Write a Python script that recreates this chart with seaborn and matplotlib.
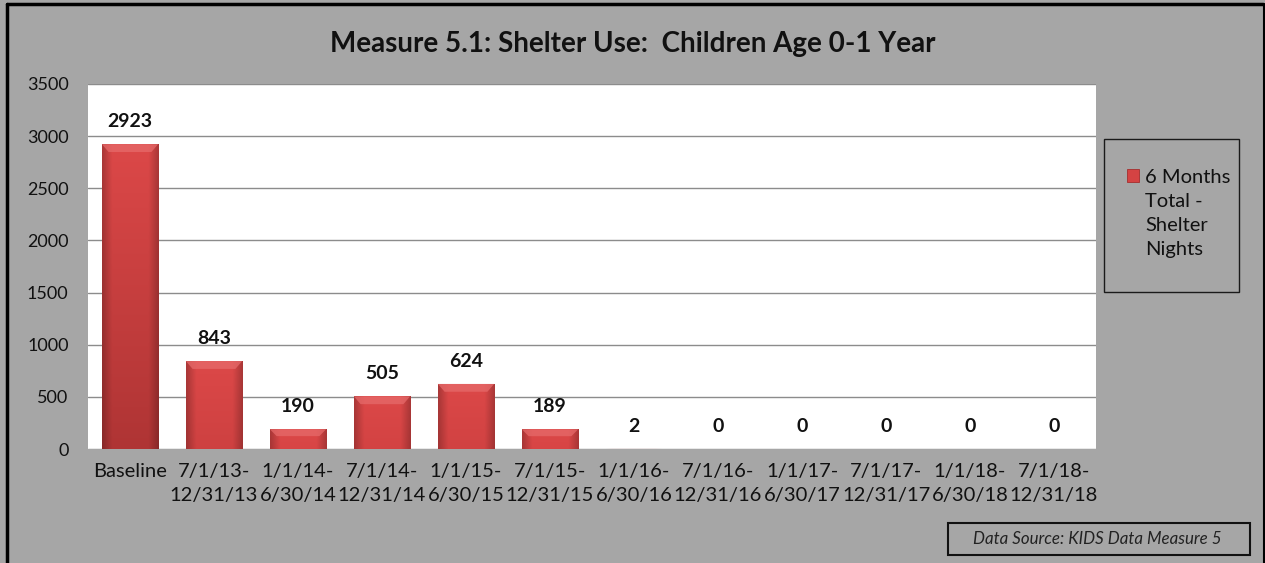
import matplotlib
matplotlib.use("Agg")
import matplotlib.pyplot as plt
import matplotlib.patches as mpatches
from matplotlib.lines import Line2D
import numpy as np
import pandas as pd
import seaborn as sns

# ---- data -------------------------------------------------------------
periods = [
    "Baseline",
    "7/1/13-\n12/31/13", "1/1/14-\n6/30/14",
    "7/1/14-\n12/31/14", "1/1/15-\n6/30/15",
    "7/1/15-\n12/31/15", "1/1/16-\n6/30/16",
    "7/1/16-\n12/31/16", "1/1/17-\n6/30/17",
    "7/1/17-\n12/31/17", "1/1/18-\n6/30/18",
    "7/1/18-\n12/31/18",
]
shelter_nights = [2923, 843, 190, 505, 624, 189, 2, 0, 0, 0, 0, 0]
series_name = "6 Months\nTotal -\nShelter\nNights"
y_ticks = [0, 500, 1000, 1500, 2000, 2500, 3000, 3500]
title = "Measure 5.1: Shelter Use:  Children Age 0-1 Year"
source_note = "Data Source: KIDS Data Measure 5"

df = pd.DataFrame({"period": periods, "nights": shelter_nights})

# ---- style ------------------------------------------------------------
sns.set_theme(style="white")
plt.rcParams["font.family"] = ["Lato", "DejaVu Sans"]
BG = "#A6A6A6"
BAR = "#D44343"
BAR_DARK = "#A52E2E"

fig = plt.figure(figsize=(12.65, 5.63), dpi=100, facecolor=BG)
W, H = 1265, 563
ax = fig.add_axes([88 / W, 1 - 449 / H, (1096 - 88) / W, (449 - 84) / H])
ax.set_facecolor("white")

sns.barplot(data=df, x="period", y="nights", color=BAR, width=0.67,
            saturation=1, ax=ax, zorder=3)

ax.set_ylim(0, 3500)
ax.set_yticks(y_ticks)
ax.set_xlabel("")
ax.set_ylabel("")
for s in ax.spines.values():
    s.set_visible(False)
ax.yaxis.grid(True, color="#8C8C8C", linewidth=1, zorder=0)
ax.set_axisbelow(True)
ax.tick_params(axis="y", length=0, pad=14, labelsize=13, labelcolor="#111111")
ax.tick_params(axis="x", length=0, pad=10, labelsize=14.5, labelcolor="#111111")
for t in ax.get_xticklabels():
    t.set_linespacing(1.5)

# shaded bar bodies with a light bevel on top
def shade(c_top, c_bot, nx=40, ny=60):
    top = np.array(matplotlib.colors.to_rgb(c_top))
    bot = np.array(matplotlib.colors.to_rgb(c_bot))
    t = np.linspace(0, 1, ny)[:, None, None]
    img = top * (1 - t) + bot * t
    img = np.repeat(img, nx, axis=1)
    xs = np.linspace(-1, 1, nx)
    edge = 1 - 0.22 * np.clip(np.abs(xs) * 1.15 - 0.75, 0, 1) / 0.4
    return img * edge[None, :, None]

for p in list(ax.patches):
    x0, y0 = p.get_x(), p.get_y()
    w, h = p.get_width(), p.get_height()
    p.set_edgecolor(BAR_DARK)
    p.set_linewidth(0.6)
    if h <= 0:
        continue
    frac = min(1.0, h / 3000)
    bot_col = np.array(matplotlib.colors.to_rgb("#DA4646")) * (1 - frac) + \
        np.array(matplotlib.colors.to_rgb("#AE3434")) * frac
    im = ax.imshow(shade("#DC4848", bot_col), extent=[x0, x0 + w, y0, y0 + h],
                   aspect="auto", zorder=3.5, interpolation="bilinear")
    im.set_clip_path(p)
    bev = min(75, h * 0.35)
    inset = w * 0.12
    top = mpatches.Polygon([[x0, y0 + h], [x0 + w, y0 + h],
                            [x0 + w - inset, y0 + h - bev], [x0 + inset, y0 + h - bev]],
                           closed=True, facecolor="#E66A6A", edgecolor="none",
                           alpha=0.75, zorder=3.6)
    ax.add_patch(top)

ax.bar_label(ax.containers[0], labels=[f"{v}" for v in shelter_nights],
             padding=10, fontsize=14, fontweight="bold", color="#111111")
ax.set_xlim(-0.5, len(periods) - 0.5)

# title
fig.text(0.5, 1 - 44 / H, title, ha="center", va="center",
         fontsize=20, fontweight="bold", color="#111111")

# legend
handle = mpatches.Patch(facecolor=BAR, edgecolor=BAR_DARK, linewidth=0.6)
leg = fig.legend([handle], [series_name], loc="upper left",
                 bbox_to_anchor=(1113 / W, 1 - 155 / H), frameon=False,
                 fontsize=14.5, handlelength=0.6, handleheight=0.6,
                 handletextpad=0.3, labelspacing=0.2, borderpad=0.2)
for t in leg.get_texts():
    t.set_linespacing(1.5)
    t.set_color("#111111")
for pk in leg._legend_handle_box.get_children():
    for hp in pk.get_children():
        hp.align = "top"
fig.add_artist(mpatches.Rectangle((1104 / W, 1 - 292 / H), 135 / W, 153 / H,
                                  transform=fig.transFigure, facecolor="none",
                                  edgecolor="#1a1a1a", linewidth=1))

# source note box
fig.add_artist(mpatches.Rectangle((948 / W, 1 - 555 / H), 302 / W, 32 / H,
                                  transform=fig.transFigure, facecolor="none",
                                  edgecolor="#111111", linewidth=1.5))
fig.text(1097 / W, 1 - 539 / H, source_note, ha="center", va="center",
         fontsize=12.2, fontstyle="italic", color="#222222")

# outer frame
fig.add_artist(Line2D([7 / W, 7 / W], [0, 1 - 4 / H], transform=fig.transFigure,
                      color="black", linewidth=2.5))
fig.add_artist(Line2D([7 / W, 1263 / W], [1 - 4 / H, 1 - 4 / H],
                      transform=fig.transFigure, color="black", linewidth=2.5))
fig.add_artist(Line2D([1263.5 / W, 1263.5 / W], [0, 1 - 4 / H],
                      transform=fig.transFigure, color="black", linewidth=1.5))

fig.savefig("out.png", dpi=100, facecolor=BG)
